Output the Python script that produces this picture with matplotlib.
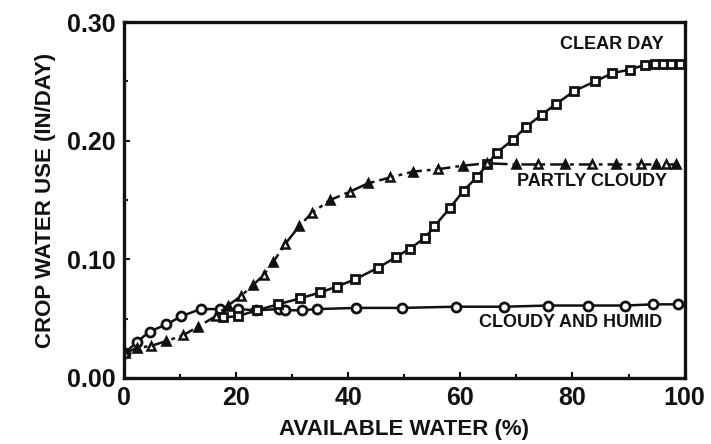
import matplotlib
matplotlib.use("Agg")
import matplotlib.pyplot as plt
from matplotlib.ticker import MultipleLocator


# cloudy and humid (circles)
humid_x = [0.2, 2.3, 4.6, 7.6, 10.3, 13.7, 17.1, 20.4, 23.6, 27.6, 28.7, 31.7,
           34.5, 41.4, 49.6, 59.2, 67.8, 75.6, 82.8, 89.3, 94.4, 98.8]
humid_y = [0.021, 0.030, 0.039, 0.045, 0.052, 0.058, 0.058, 0.058, 0.057, 0.058,
           0.057, 0.057, 0.058, 0.059, 0.059, 0.060, 0.060, 0.061, 0.061, 0.061,
           0.062, 0.062]

# clear day (squares)
clear_x = [17.7, 20.4, 23.7, 27.5, 31.4, 35.0, 38.0, 41.2, 45.4, 48.6, 51.0,
           53.7, 55.4, 58.1, 60.6, 62.9, 64.8, 66.5, 69.4, 71.8, 74.5, 77.1,
           80.3, 84.0, 87.1, 90.2, 92.9, 94.7, 96.1, 97.6, 99.1]
clear_y = [0.051, 0.052, 0.057, 0.062, 0.067, 0.072, 0.077, 0.083, 0.093, 0.102,
           0.109, 0.118, 0.128, 0.143, 0.158, 0.169, 0.180, 0.190, 0.201, 0.212,
           0.222, 0.231, 0.242, 0.250, 0.257, 0.260, 0.264, 0.265, 0.265, 0.265,
           0.265]

# partly cloudy (triangles)
partly_x = [0.2, 2.3, 4.9, 7.6, 10.6, 13.2, 16.4, 18.6, 20.9, 23.0, 25.0, 26.7,
            28.8, 31.3, 33.5, 36.8, 40.3, 43.5, 47.5, 51.6, 56.0, 60.5, 64.8,
            70.0, 73.8, 78.6, 83.4, 87.8, 92.3, 94.9, 96.7, 98.5]
partly_y = [0.021, 0.025, 0.027, 0.031, 0.036, 0.043, 0.052, 0.061, 0.069, 0.078,
            0.087, 0.098, 0.113, 0.128, 0.139, 0.150, 0.157, 0.164, 0.169, 0.174,
            0.176, 0.179, 0.181, 0.180, 0.180, 0.180, 0.180, 0.180, 0.180, 0.180,
            0.180, 0.180]

x_ticks = [0, 20, 40, 60, 80, 100]
y_ticks = [0.00, 0.10, 0.20, 0.30]

plt.rcParams["font.family"] = ["Liberation Sans", "DejaVu Sans"]
plt.rcParams["font.weight"] = "bold"
plt.rcParams["axes.labelweight"] = "bold"

fig = plt.figure(figsize=(7.11, 4.44), dpi=100)
ax = fig.add_axes([0.174, 0.149, 0.789, 0.801])

ink = "#111111"
ax.plot(humid_x, humid_y, "-", color=ink, lw=1.8, marker="o", ms=6.5,
        mfc="white", mec=ink, mew=2.0)
ax.plot(clear_x, clear_y, "-", color=ink, lw=1.8, marker="s", ms=6,
        mfc="white", mec=ink, mew=2.0)
ax.plot(partly_x, partly_y, color=ink, lw=1.8, ls=(0, (6, 2, 1.5, 2)),
        marker="^", ms=6, mfc="white", mec=ink, mew=1.8)
ax.plot(partly_x, partly_y, ls="none", marker="^", ms=6, mfc=ink, mec=ink,
        markevery=slice(1, None, 2))

ax.text(87, 0.281, "CLEAR DAY", ha="center", va="center", fontsize=13, color=ink)
ax.text(83.4, 0.166, "PARTLY CLOUDY", ha="center", va="center", fontsize=13, color=ink)
ax.text(79.7, 0.047, "CLOUDY AND HUMID", ha="center", va="center", fontsize=13, color=ink)

ax.set_xlim(0, 100)
ax.set_ylim(0, 0.30)
ax.set_xticks(x_ticks)
ax.set_yticks(y_ticks)
ax.set_yticklabels([f"{v:.2f}" for v in y_ticks])
ax.xaxis.set_minor_locator(MultipleLocator(10))
ax.yaxis.set_minor_locator(MultipleLocator(0.05))
ax.tick_params(which="both", direction="in", length=4, width=1.5, color=ink,
               labelsize=18, labelcolor=ink, pad=6)
ax.tick_params(which="minor", length=3)

for side in ax.spines.values():
    side.set_linewidth(2.4)
    side.set_color(ink)

ax.set_xlabel("AVAILABLE WATER (%)", fontsize=16, color=ink, labelpad=6)
ax.set_ylabel("CROP WATER USE (IN/DAY)", fontsize=16, color=ink, labelpad=8)

fig.savefig("out.png", dpi=100)
plt.close(fig)
